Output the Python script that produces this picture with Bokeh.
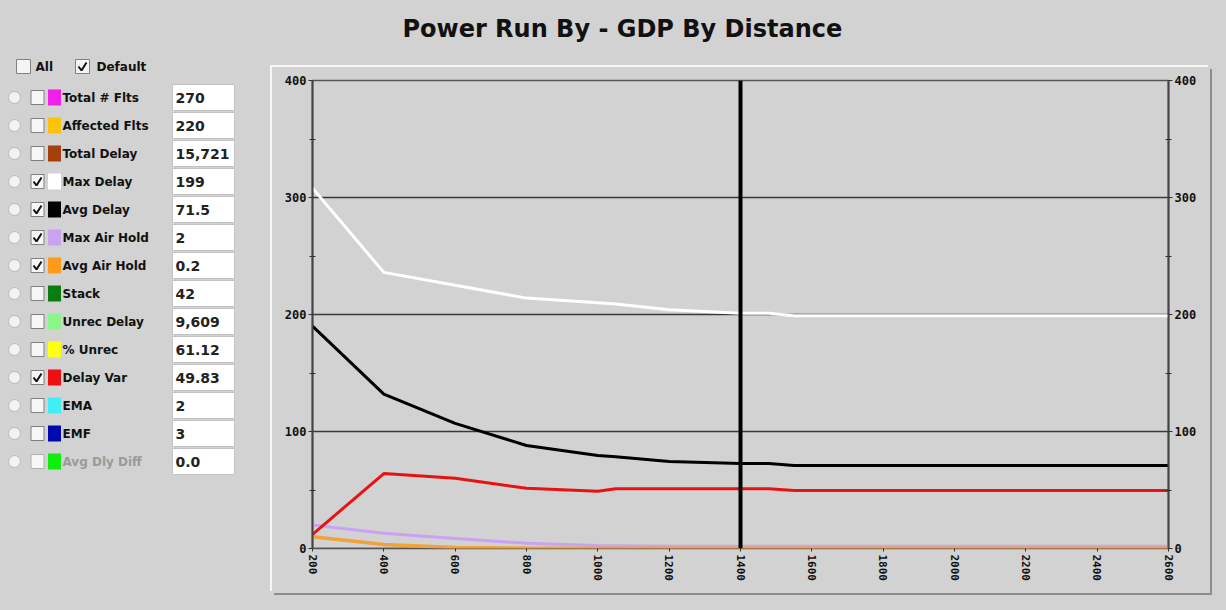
from bokeh.plotting import figure
from bokeh.models import Range1d, LinearAxis, FixedTicker, Span, Spacer
from bokeh.layouts import row, column
from bokeh.embed import file_html
from bokeh.resources import INLINE
from bokeh.core.properties import value

# ---------------- data ----------------
TITLE = "Power Run By -  GDP By Distance"

distance = [200, 400, 600, 800, 1000, 1050, 1200, 1400, 1480, 1550, 2600]
max_delay = [308, 236, 225, 214, 210, 209, 204, 201, 201, 199, 199]
avg_delay = [190, 132, 107, 88, 79.5, 78.5, 74.4, 72.6, 72.6, 71, 71]
delay_var = [12, 64, 60, 51.5, 49, 51, 51, 51, 51, 49.5, 49.5]
max_air_hold = [20, 13, 8.5, 4.5, 2.5, 2.4, 2, 2, 2, 2, 2]
avg_air_hold = [10, 3.5, 0.8, 0.4, 0.3, 0.3, 0.3, 0.3, 0.3, 0.3, 0.3]

cursor_distance = 1400

x_ticks = [200, 400, 600, 800, 1000, 1200, 1400, 1600, 1800, 2000, 2200, 2400, 2600]
y_ticks = [0, 100, 200, 300, 400]
y_minor_ticks = [50, 150, 250, 350]

metric_names = ["Total # Flts", "Affected Flts", "Total Delay", "Max Delay", "Avg Delay",
                "Max Air Hold", "Avg Air Hold", "Stack", "Unrec Delay", "% Unrec",
                "Delay Var", "EMA", "EMF", "Avg Dly Diff"]
metric_values = ["270", "220", "15,721", "199", "71.5", "2", "0.2", "42", "9,609",
                 "61.12", "49.83", "2", "3", "0.0"]
metric_colors = ["#f020e8", "#ffc20a", "#a3400e", "#ffffff", "#000000", "#caa2f2",
                 "#ff9a1a", "#0a7d12", "#88f788", "#ffff10", "#ee1010", "#40eef8",
                 "#0008b0", "#10ee10"]
metric_checked = [False, False, False, True, True, True, True, False, False, False,
                  True, False, False, False]
metric_enabled = [True] * 13 + [False]

BG = "#d2d2d2"

# ---------------- title ----------------
tf = figure(width=1218, height=58, x_range=Range1d(0, 1218), y_range=Range1d(58, 0),
            output_backend="svg", toolbar_location=None, min_border=0)
tf.axis.visible = False
tf.grid.visible = False
tf.outline_line_color = None
tf.background_fill_color = BG
tf.border_fill_color = BG
tf.text(x=[626], y=[28], text=[TITLE], text_align="center", text_baseline="middle",
        text_font=value("DejaVu Sans"), text_font_style="bold", text_font_size="24px",
        text_color="#111111")

# ---------------- left panel ----------------
lp = figure(width=272, height=544, x_range=Range1d(0, 272), y_range=Range1d(602, 58),
            output_backend="svg", toolbar_location=None, min_border=0)
lp.axis.visible = False
lp.grid.visible = False
lp.outline_line_color = None
lp.background_fill_color = BG
lp.border_fill_color = BG

# "All" / "Default"
lp.rect(x=[23, 82], y=[66, 66], width=14, height=14, fill_color="#f4f4f4",
        line_color="#808080", line_width=1)
lp.multi_line(xs=[[78, 81, 86]], ys=[[66, 70, 62]], line_color="#111111", line_width=2)
lp.text(x=[35, 96], y=[66, 66], text=["All", "Default"], text_baseline="middle",
        text_font=value("DejaVu Sans"), text_font_style="bold", text_font_size="12px",
        text_color="#111111")

row_y = [97 + 28 * i for i in range(len(metric_names))]
lp.circle(x=[14] * len(row_y), y=row_y, radius=6, fill_color="#f2f2f2",
          line_color="#b8b8b8", line_width=1)
lp.rect(x=[37] * len(row_y), y=row_y, width=13, height=14, fill_color="#f6f6f6",
        line_color=["#808080" if e else "#b0b0b0" for e in metric_enabled], line_width=1)
ck_x, ck_y = [], []
for y, c in zip(row_y, metric_checked):
    if c:
        ck_x.append([33, 36, 41])
        ck_y.append([y, y + 4, y - 4])
lp.multi_line(xs=ck_x, ys=ck_y, line_color="#111111", line_width=2)
lp.rect(x=[54] * len(row_y), y=row_y, width=13, height=16, fill_color=metric_colors,
        line_color=None)
lp.text(x=[62] * len(row_y), y=row_y, text=metric_names, text_baseline="middle",
        text_font=value("DejaVu Sans"), text_font_style="bold", text_font_size="12px",
        text_color=["#111111" if e else "#9a9a9a" for e in metric_enabled])
lp.rect(x=[203] * len(row_y), y=row_y, width=62, height=26, fill_color="#ffffff",
        line_color="#c4c4c4", line_width=1)
lp.text(x=[175] * len(row_y), y=row_y, text=metric_values, text_baseline="middle",
        text_font=value("DejaVu Sans"), text_font_style="bold", text_font_size="14px",
        text_color="#222222")

# ---------------- chart ----------------
p = figure(width=938, height=526, x_range=Range1d(200, 2600), y_range=Range1d(0, 400),
           output_backend="svg", toolbar_location=None,
           min_border_left=40, min_border_right=42, min_border_top=13, min_border_bottom=45)
p.background_fill_color = BG
p.border_fill_color = BG
p.outline_line_color = "#555555"
p.outline_line_width = 1.5
p.styles = {"box-shadow": "-2px -2px 0 0 #f6f6f6, 2px 2px 0 0 #8c8c8c"}

p.xgrid.visible = False
p.ygrid.ticker = FixedTicker(ticks=y_ticks)
p.ygrid.grid_line_color = "#3a3a3a"
p.ygrid.grid_line_width = 1.5

p.add_layout(Span(location=0, dimension="width", line_color="#555555", line_width=1.5,
                  level="underlay"))

p.line(distance, max_air_hold, line_color="#caa2f2", line_width=3)
p.line(distance, avg_air_hold, line_color="#f2a23a", line_width=3.5)
p.line(distance, max_delay, line_color="#ffffff", line_width=3)
p.line(distance, avg_delay, line_color="#000000", line_width=3)
p.line(distance, delay_var, line_color="#e81212", line_width=3)

p.add_layout(Span(location=cursor_distance, dimension="height", line_color="#000000",
                  line_width=4))

tick_font = "DejaVu Sans Mono"
xa = p.xaxis[0]
xa.ticker = FixedTicker(ticks=x_ticks)
xa.major_label_orientation = "vertical"
xa.axis_line_color = None
xa.major_tick_in = 0
xa.major_tick_out = 3
xa.major_tick_line_color = "#333333"
xa.minor_tick_line_color = None
xa.major_label_standoff = 3
xa.major_label_text_font = tick_font
xa.major_label_text_font_style = "bold"
xa.major_label_text_font_size = "11px"
xa.major_label_text_color = "#111111"

ya = p.yaxis[0]
ya.ticker = FixedTicker(ticks=y_ticks, minor_ticks=y_minor_ticks)
right = LinearAxis(ticker=FixedTicker(ticks=y_ticks, minor_ticks=y_minor_ticks))
p.add_layout(right, "right")
for ax in (ya, right):
    ax.axis_line_color = "#444444"
    ax.axis_line_width = 2
    ax.major_tick_in = 0
    ax.major_tick_out = 4
    ax.minor_tick_in = 3
    ax.minor_tick_out = 3
    ax.major_tick_line_color = "#333333"
    ax.minor_tick_line_color = "#333333"
    ax.major_label_standoff = 2
    ax.major_label_text_font = tick_font
    ax.major_label_text_font_style = "bold"
    ax.major_label_text_font_size = "12px"
    ax.major_label_text_color = "#111111"

layout = column(tf, row(lp, column(Spacer(width=938, height=9), p)))

html = file_html(layout, INLINE)
html = html.replace("</head>", "<style>html,body{background:#d2d2d2;}</style></head>", 1)
open("out.html", "w").write(html)
